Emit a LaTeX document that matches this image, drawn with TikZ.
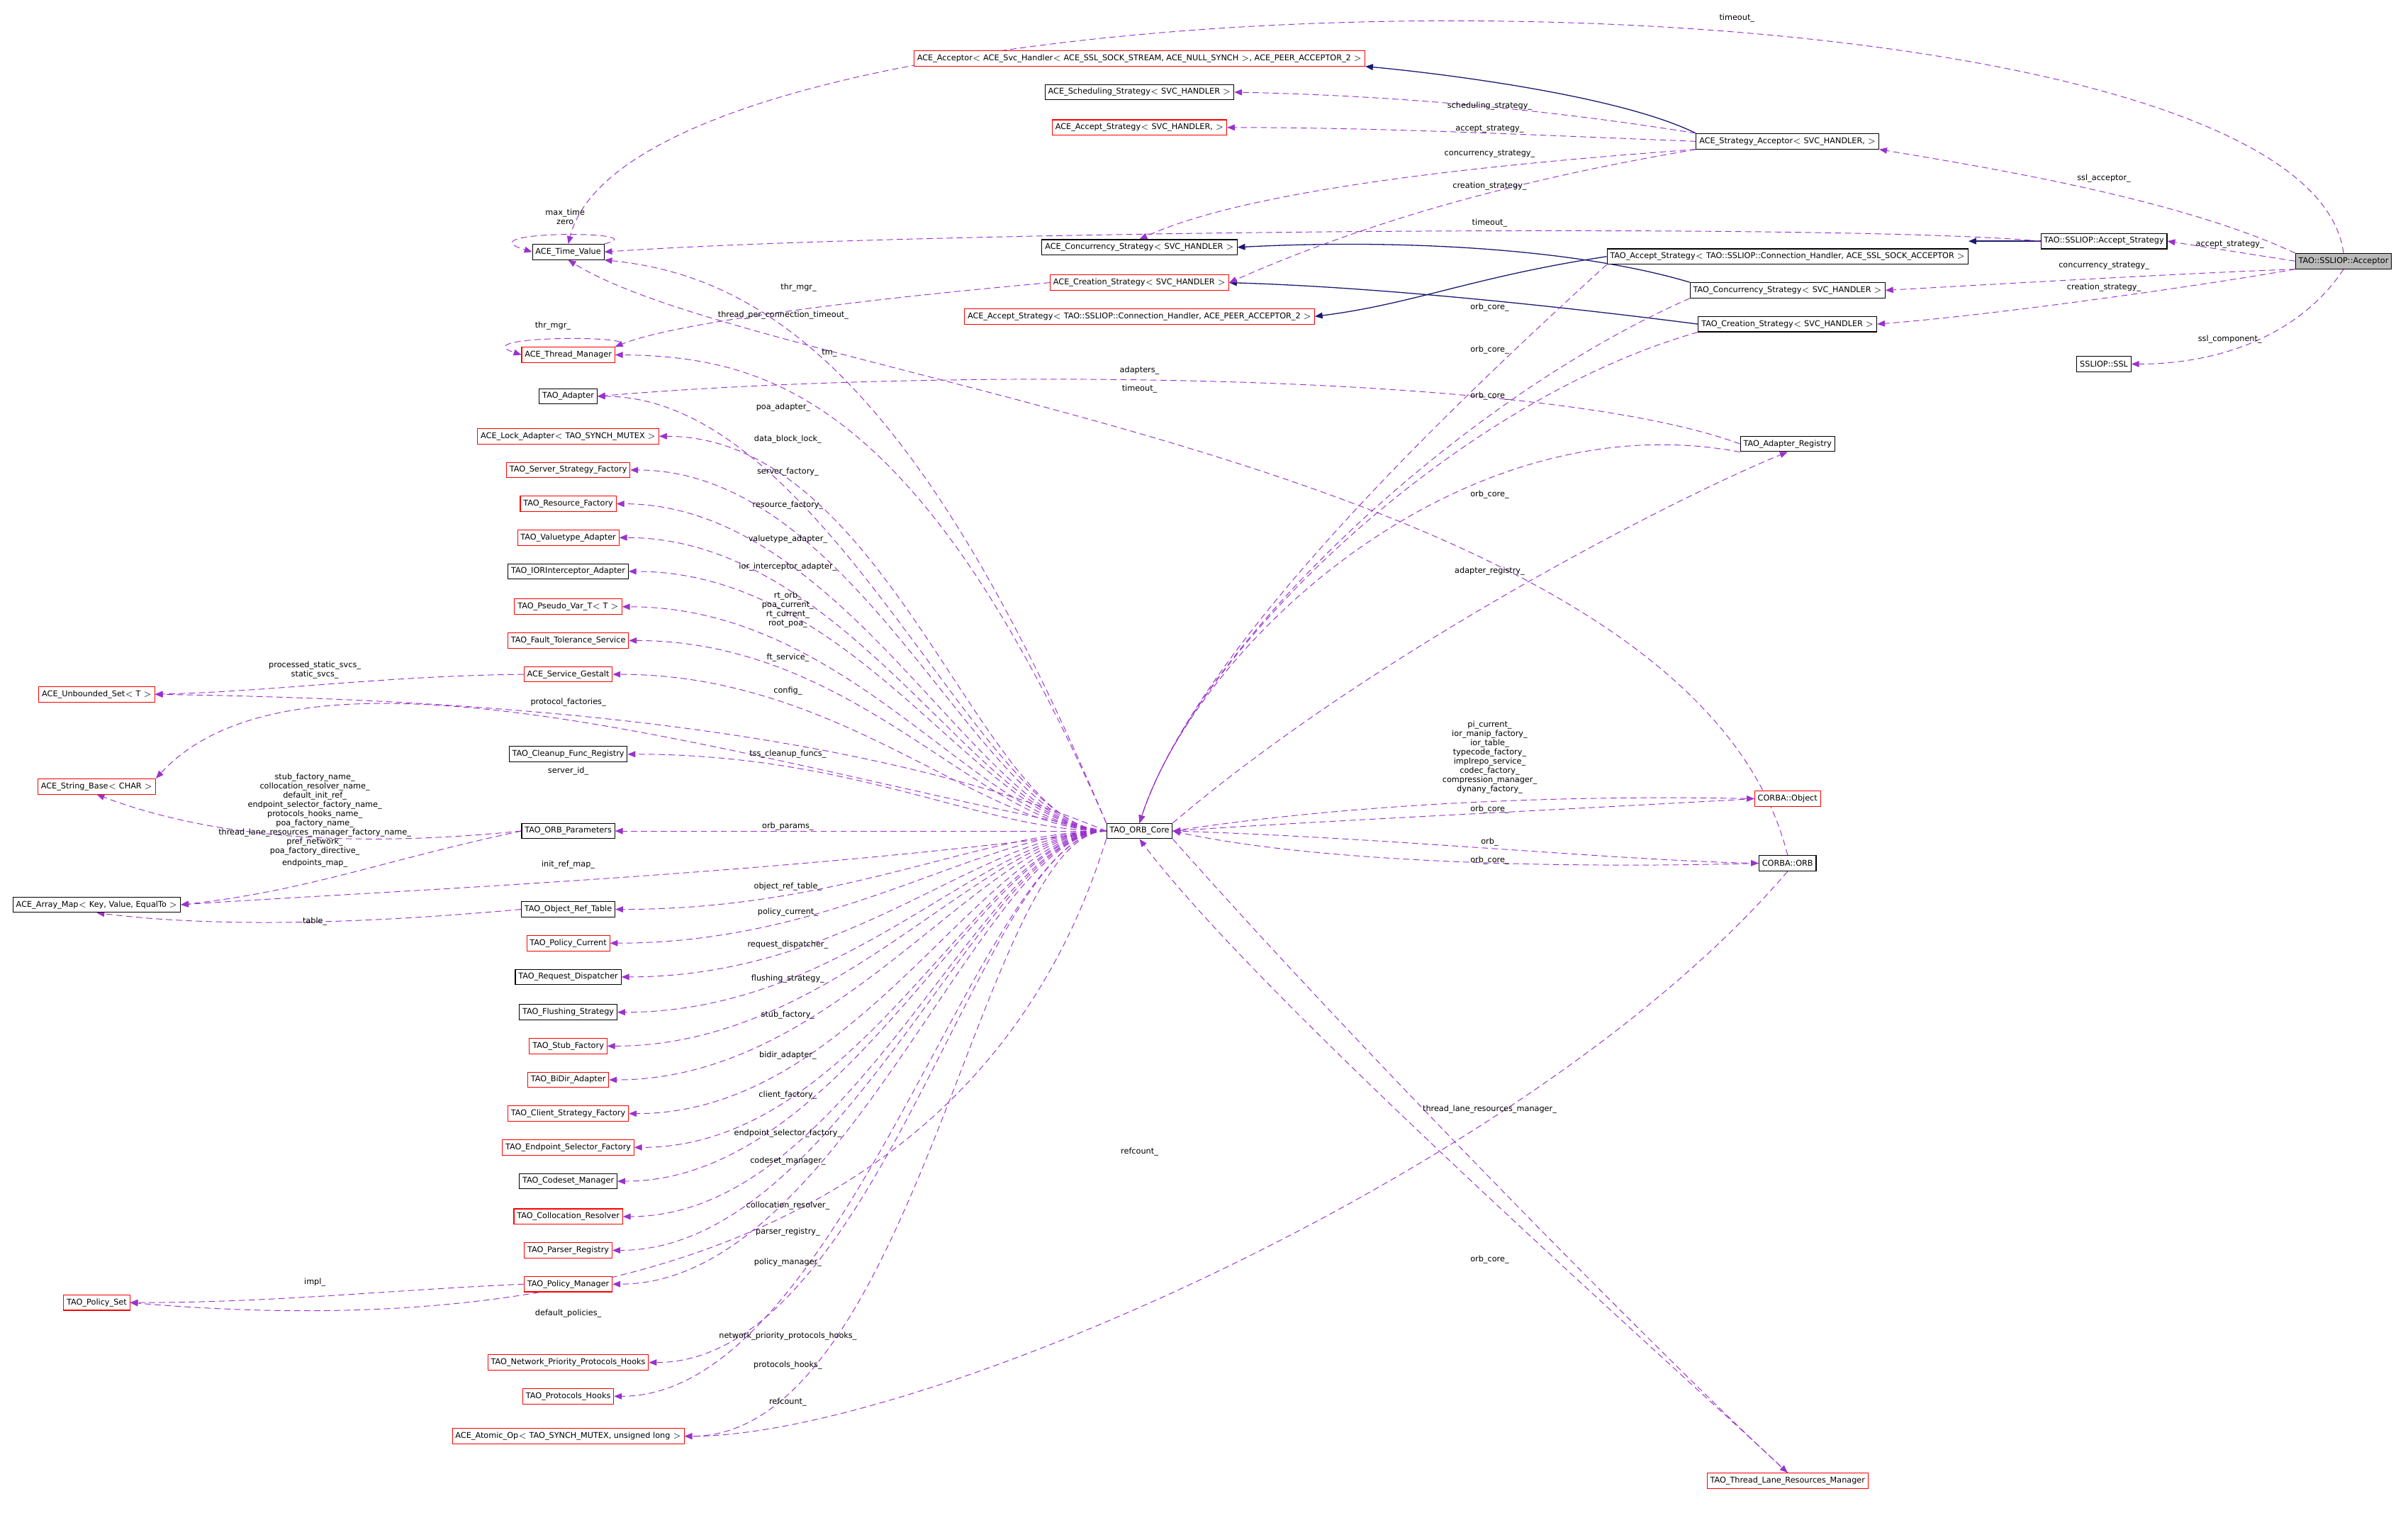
\documentclass[tikz,border=0pt]{standalone}
\usepackage{fontspec}
\setmainfont{DejaVu Sans}
\usetikzlibrary{arrows.meta,calc,backgrounds}
\definecolor{usec}{HTML}{9A32CD}
\definecolor{inhc}{HTML}{191970}
\begin{document}
\begin{tikzpicture}[x=1pt,y=-1pt,
  box/.style={draw=black,line width=0.5pt,fill=white,font=\fontsize{5.2}{6}\selectfont,inner sep=2pt,minimum height=10pt},
  rbox/.style={box,draw=red},
  lbl/.style={font=\fontsize{5.2}{6}\selectfont,inner sep=0.5pt,align=center},
  use/.style={draw=usec,dashed,dash pattern=on 4pt off 2.5pt,line width=0.45pt,-{Triangle[length=5pt,width=4pt]}},
  inh/.style={draw=inhc,line width=0.6pt,-{Triangle[length=5pt,width=4pt]}}]
\useasboundingbox (0,0) rectangle (1568,988);
% ---- nodes right / top
\node[box,fill=black!27] (acc) at (1526,170) {TAO::SSLIOP::Acceptor};
\node[box] (sas) at (1370,157) {TAO::SSLIOP::Accept\_Strategy};
\node[box] (ssl) at (1370,237) {SSLIOP::SSL};
\node[box] (stacc) at (1164,92) {ACE\_Strategy\_Acceptor$<$ SVC\_HANDLER, $>$};
\node[rbox] (aacc) at (742,38) {ACE\_Acceptor$<$ ACE\_Svc\_Handler$<$ ACE\_SSL\_SOCK\_STREAM, ACE\_NULL\_SYNCH $>$, ACE\_PEER\_ACCEPTOR\_2 $>$};
\node[box] (sched) at (742,60) {ACE\_Scheduling\_Strategy$<$ SVC\_HANDLER $>$};
\node[rbox] (aas) at (742,83) {ACE\_Accept\_Strategy$<$ SVC\_HANDLER, $>$};
\node[box] (acs) at (742,161) {ACE\_Concurrency\_Strategy$<$ SVC\_HANDLER $>$};
\node[rbox] (acrs) at (742,184) {ACE\_Creation\_Strategy$<$ SVC\_HANDLER $>$};
\node[rbox] (aas2) at (742,206) {ACE\_Accept\_Strategy$<$ TAO::SSLIOP::Connection\_Handler, ACE\_PEER\_ACCEPTOR\_2 $>$};
\node[box] (tas) at (1164,167) {TAO\_Accept\_Strategy$<$ TAO::SSLIOP::Connection\_Handler, ACE\_SSL\_SOCK\_ACCEPTOR $>$};
\node[box] (tcs) at (1164,189) {TAO\_Concurrency\_Strategy$<$ SVC\_HANDLER $>$};
\node[box] (tcrs) at (1164,211) {TAO\_Creation\_Strategy$<$ SVC\_HANDLER $>$};
\node[box] (areg) at (1164,289) {TAO\_Adapter\_Registry};
\node[rbox] (cobj) at (1164,520) {CORBA::Object};
\node[box] (corb) at (1164,562) {CORBA::ORB};
\node[rbox] (tlrm) at (1164,964) {TAO\_Thread\_Lane\_Resources\_Manager};
\node[box] (core) at (742,541) {TAO\_ORB\_Core};
% ---- left column
\node[box] (tv) at (370,164) {ACE\_Time\_Value};
\node[rbox] (thm) at (370,231) {ACE\_Thread\_Manager};
\node[box] (ad) at (370,258) {TAO\_Adapter};
\node[rbox] (la) at (370,284) {ACE\_Lock\_Adapter$<$ TAO\_SYNCH\_MUTEX $>$};
\node[rbox] (ssf) at (370,306) {TAO\_Server\_Strategy\_Factory};
\node[rbox] (rf) at (370,328) {TAO\_Resource\_Factory};
\node[rbox] (va) at (370,350) {TAO\_Valuetype\_Adapter};
\node[box] (ioria) at (370,372) {TAO\_IORInterceptor\_Adapter};
\node[rbox] (pv) at (370,395) {TAO\_Pseudo\_Var\_T$<$ T $>$};
\node[rbox] (fts) at (370,417) {TAO\_Fault\_Tolerance\_Service};
\node[rbox] (sg) at (370,439) {ACE\_Service\_Gestalt};
\node[box] (cfr) at (370,491) {TAO\_Cleanup\_Func\_Registry};
\node[box] (op) at (370,541) {TAO\_ORB\_Parameters};
\node[box] (ort) at (370,592) {TAO\_Object\_Ref\_Table};
\node[rbox] (pc) at (370,614) {TAO\_Policy\_Current};
\node[box] (rd) at (370,636) {TAO\_Request\_Dispatcher};
\node[box] (fs) at (370,659) {TAO\_Flushing\_Strategy};
\node[rbox] (sf) at (370,681) {TAO\_Stub\_Factory};
\node[rbox] (bd) at (370,703) {TAO\_BiDir\_Adapter};
\node[rbox] (csf) at (370,725) {TAO\_Client\_Strategy\_Factory};
\node[rbox] (esf) at (370,747) {TAO\_Endpoint\_Selector\_Factory};
\node[box] (cm) at (370,769) {TAO\_Codeset\_Manager};
\node[rbox] (cr) at (370,792) {TAO\_Collocation\_Resolver};
\node[rbox] (pr) at (370,814) {TAO\_Parser\_Registry};
\node[rbox] (pm) at (370,836) {TAO\_Policy\_Manager};
\node[rbox] (nph) at (370,887) {TAO\_Network\_Priority\_Protocols\_Hooks};
\node[rbox] (ph) at (370,909) {TAO\_Protocols\_Hooks};
\node[rbox] (ao) at (370,935) {ACE\_Atomic\_Op$<$ TAO\_SYNCH\_MUTEX, unsigned long $>$};
% ---- far left
\node[rbox] (us) at (63,452) {ACE\_Unbounded\_Set$<$ T $>$};
\node[rbox] (sb) at (63,512) {ACE\_String\_Base$<$ CHAR $>$};
\node[box] (am) at (63,589) {ACE\_Array\_Map$<$ Key, Value, EqualTo $>$};
\node[rbox] (ps) at (63,848) {TAO\_Policy\_Set};
\begin{pgfonlayer}{background}
% ---- inheritance
\draw[inh] (stacc.north west) .. controls (1050,60) and (920,46) .. (aacc.south east);
\draw[inh] (sas.west) -- (tas.north east|-sas.west);
\draw[inh] (tas.west) .. controls (960,180) and (920,198) .. (aas2.east);
\draw[inh] (tcs.north west) .. controls (1020,160) and (900,156) .. (acs.east);
\draw[inh] (tcrs.west) .. controls (1020,200) and (900,187) .. (acrs.east);
% ---- acceptor uses
\draw[use] (acc.north) .. controls (1500,-35) and (420,-35) .. (tv.north);
\draw[use] (acc.north west) .. controls (1420,130) and (1300,110) .. (stacc.south east);
\draw[use] (acc.west) -- (sas.east);
\draw[use] (acc.south west) .. controls (1420,178) and (1300,185) .. (tcs.east);
\draw[use] (acc.south west) .. controls (1440,185) and (1300,205) .. (tcrs.east);
\draw[use] (acc.south) .. controls (1500,215) and (1450,237) .. (ssl.east);
\draw[use] (sas.west) .. controls (1200,145) and (600,150) .. (tv.east);
% ---- strategy acceptor uses
\draw[use] (stacc.north west) .. controls (1000,70) and (900,62) .. (sched.east);
\draw[use] (stacc.west) .. controls (1000,88) and (900,83) .. (aas.east);
\draw[use] (stacc.south west) .. controls (1000,105) and (820,120) .. (acs.north);
\draw[use] (stacc.south west) .. controls (1000,115) and (900,140) .. (acrs.east);
% ---- creation strategy thr_mgr
\draw[use] (acrs.west) .. controls (560,195) and (440,210) .. (thm.north east);
\draw[use] (thm.north east) .. controls (430,218) and (300,218) .. (thm.west);
\draw[use] (tv.north east) .. controls (430,150) and (300,150) .. (tv.west);
% ---- orb_core edges to right
\foreach \n in {tas,tcs,tcrs,areg}{\draw[use] (\n.south west) .. controls (950,260) and (780,420) .. (core.north);}
\draw[use] (core.north east) .. controls (900,420) and (1100,320) .. (areg.south);
\draw[use] (core.east) .. controls (900,520) and (1050,518) .. (cobj.west);
\draw[use] (cobj.west) .. controls (1000,528) and (850,535) .. (core.east);
\draw[use] (core.east) .. controls (900,545) and (1050,560) .. (corb.west);
\draw[use] (corb.west) .. controls (1000,566) and (850,560) .. (core.east);
\draw[use] (core.south east) .. controls (900,700) and (1100,900) .. (tlrm.north);
\draw[use] (tlrm.north) .. controls (1080,880) and (820,650) .. (core.south);
\draw[use] (corb.north) .. controls (1100,300) and (500,250) .. (tv.south);
\draw[use] (corb.south) .. controls (1000,760) and (600,935) .. (ao.east);
\draw[use] (areg.west) .. controls (1000,240) and (600,240) .. (ad.east);
% ---- orb_core to left column
\draw[use] (core.north west) .. controls (600,250) and (500,180) .. (tv.south east);
\draw[use] (core.north west) .. controls (600,260) and (500,232) .. (thm.east);
\foreach \n in {ad,la,ssf,rf,va,ioria,pv,fts,sg,cfr,op,ort,pc,rd,fs,sf,bd,csf,esf,cm,cr,pr,pm,nph,ph,ao}{
  \draw[use] (core.west) .. controls (640,541) and ($(\n.east)+(150,0)$) .. (\n.east);}
\draw[use] (core.west) .. controls (550,470) and (300,455) .. (us.east);
\draw[use] (core.west) .. controls (500,500) and (200,400) .. (sb.north east);
\draw[use] (core.west) .. controls (500,570) and (250,580) .. (am.east);
\draw[use] (core.south west) .. controls (620,870) and (250,862) .. (ps.east);
\draw[use] (sg.west) .. controls (250,440) and (180,450) .. (us.east);
\draw[use] (op.west) .. controls (250,550) and (150,550) .. (sb.south);
\draw[use] (op.west) .. controls (250,560) and (200,580) .. (am.east);
\draw[use] (ort.west) .. controls (250,600) and (150,605) .. (am.south);
\draw[use] (pm.west) .. controls (250,840) and (180,848) .. (ps.east);
\end{pgfonlayer}
% ---- labels
\node[lbl] (l1) at (1131,12) {timeout\_};
\node[lbl] (l2) at (970,69) {scheduling\_strategy\_};
\node[lbl] (l3) at (970,84) {accept\_strategy\_};
\node[lbl] (l4) at (970,100) {concurrency\_strategy\_};
\node[lbl] (l5) at (970,121) {creation\_strategy\_};
\node[lbl] (l6) at (970,145) {timeout\_};
\node[lbl] (l7) at (1370,116) {ssl\_acceptor\_};
\node[lbl] (l8) at (1452,159) {accept\_strategy\_};
\node[lbl] (l9) at (1370,173) {concurrency\_strategy\_};
\node[lbl] (l10) at (1370,187) {creation\_strategy\_};
\node[lbl] (l11) at (1452,221) {ssl\_component\_};
\node[lbl] (l12) at (368,141) {max\_time\\zero};
\node[lbl] (l13) at (360,212) {thr\_mgr\_};
\node[lbl] (l14) at (520,187) {thr\_mgr\_};
\node[lbl] (l15) at (510,205) {thread\_per\_connection\_timeout\_};
\node[lbl] (l16) at (540,230) {tm\_};
\node[lbl] (l17) at (970,200) {orb\_core\_};
\node[lbl] (l18) at (970,228) {orb\_core\_};
\node[lbl] (l19) at (970,258) {orb\_core\_};
\node[lbl] (l20) at (742,241) {adapters\_};
\node[lbl] (l21) at (742,253) {timeout\_};
\node[lbl] (l22) at (970,322) {orb\_core\_};
\node[lbl] (l23) at (970,372) {adapter\_registry\_};
\node[lbl] (l24) at (970,493) {pi\_current\_\\ior\_manip\_factory\_\\ior\_table\_\\typecode\_factory\_\\implrepo\_service\_\\codec\_factory\_\\compression\_manager\_\\dynany\_factory\_};
\node[lbl] (l25) at (970,527) {orb\_core\_};
\node[lbl] (l26) at (970,548) {orb\_};
\node[lbl] (l27) at (970,560) {orb\_core\_};
\node[lbl] (l28) at (970,722) {thread\_lane\_resources\_manager\_};
\node[lbl] (l29) at (970,820) {orb\_core\_};
\node[lbl] (l30) at (742,750) {refcount\_};
\node[lbl] (m1) at (510,265) {poa\_adapter\_};
\node[lbl] (m2) at (513,286) {data\_block\_lock\_};
\node[lbl] (m3) at (513,307) {server\_factory\_};
\node[lbl] (m4) at (513,329) {resource\_factory\_};
\node[lbl] (m5) at (513,351) {valuetype\_adapter\_};
\node[lbl] (m6) at (513,369) {ior\_interceptor\_adapter\_};
\node[lbl] (m7) at (513,397) {rt\_orb\_\\poa\_current\_\\rt\_current\_\\root\_poa\_};
\node[lbl] (m8) at (513,428) {ft\_service\_};
\node[lbl] (m9) at (513,450) {config\_};
\node[lbl] (m10) at (370,457) {protocol\_factories\_};
\node[lbl] (m11) at (205,436) {processed\_static\_svcs\_\\static\_svcs\_};
\node[lbl] (m12) at (513,491) {tss\_cleanup\_funcs\_};
\node[lbl] (m13) at (370,502) {server\_id\_};
\node[lbl] (m14) at (205,530) {stub\_factory\_name\_\\collocation\_resolver\_name\_\\default\_init\_ref\_\\endpoint\_selector\_factory\_name\_\\protocols\_hooks\_name\_\\poa\_factory\_name\_\\thread\_lane\_resources\_manager\_factory\_name\_\\pref\_network\_\\poa\_factory\_directive\_};
\node[lbl] (m15) at (513,538) {orb\_params\_};
\node[lbl] (m16) at (205,562) {endpoints\_map\_};
\node[lbl] (m17) at (370,563) {init\_ref\_map\_};
\node[lbl] (m18) at (205,600) {table\_};
\node[lbl] (m19) at (513,577) {object\_ref\_table\_};
\node[lbl] (m20) at (513,594) {policy\_current\_};
\node[lbl] (m21) at (513,615) {request\_dispatcher\_};
\node[lbl] (m22) at (513,637) {flushing\_strategy\_};
\node[lbl] (m23) at (513,661) {stub\_factory\_};
\node[lbl] (m24) at (513,687) {bidir\_adapter\_};
\node[lbl] (m25) at (513,713) {client\_factory\_};
\node[lbl] (m26) at (513,738) {endpoint\_selector\_factory\_};
\node[lbl] (m27) at (513,756) {codeset\_manager\_};
\node[lbl] (m28) at (513,785) {collocation\_resolver\_};
\node[lbl] (m29) at (513,802) {parser\_registry\_};
\node[lbl] (m30) at (513,822) {policy\_manager\_};
\node[lbl] (m31) at (205,835) {impl\_};
\node[lbl] (m32) at (370,855) {default\_policies\_};
\node[lbl] (m33) at (513,870) {network\_priority\_protocols\_hooks\_};
\node[lbl] (m34) at (513,889) {protocols\_hooks\_};
\node[lbl] (m35) at (513,913) {refcount\_};
\end{tikzpicture}
\end{document}
